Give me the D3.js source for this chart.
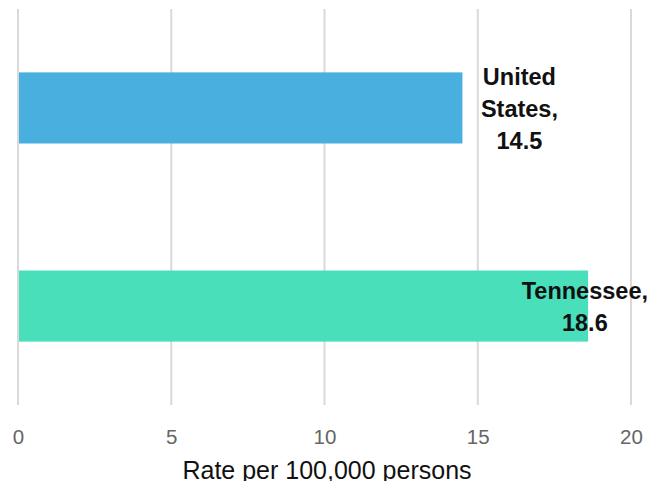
<!DOCTYPE html>
<html>
<head>
<meta charset="utf-8">
<script src="https://cdn.jsdelivr.net/npm/d3@7"></script>
<style>
  html, body { margin: 0; padding: 0; background: #fff; }
  svg { display: block; font-family: "Liberation Sans", Arial, sans-serif; }
</style>
</head>
<body>
<svg id="chart" width="658" height="481"></svg>
<script>
// Rates per 100,000 persons
const regions = ["United States", "Tennessee"];
const rates = [14.5, 18.6];
const barColors = ["#48AFDF", "#48DFBA"];
const xTicks = [0, 5, 10, 15, 20];
const axisTitle = "Rate per 100,000 persons";

const W = 658, H = 481;
const svg = d3.select("#chart");

const x = d3.scaleLinear().domain([0, 20]).range([18, 631]);
const y = d3.scaleBand().domain(regions).range([9, 405])
  .paddingInner(0.641).paddingOuter(0.32);

// vertical gridlines
svg.append("g").selectAll("line").data(xTicks).join("line")
  .attr("x1", d => x(d)).attr("x2", d => x(d))
  .attr("y1", 9).attr("y2", 405)
  .attr("stroke", "#d9d9d9").attr("stroke-width", 2);

// bars
svg.append("g").selectAll("rect").data(regions).join("rect")
  .attr("x", x(0) + 1)
  .attr("y", d => y(d))
  .attr("width", (d, i) => x(rates[i]) - x(0) - 1)
  .attr("height", y.bandwidth())
  .attr("fill", (d, i) => barColors[i]);

// x axis tick labels
const axis = svg.append("g").attr("transform", "translate(0,444)")
  .call(d3.axisBottom(x).tickValues(xTicks).tickSize(0).tickPadding(0));
axis.select(".domain").remove();
axis.selectAll("text")
  .attr("dy", 0)
  .attr("fill", "#666")
  .style("font-size", "20.5px")
  .style("font-family", "'Liberation Sans', Arial, sans-serif");

// axis title
svg.append("text")
  .attr("x", 327).attr("y", 478.5)
  .attr("text-anchor", "middle")
  .attr("fill", "#111")
  .style("font-size", "25px")
  .text(axisTitle);

// data labels beside each bar, wrapped and kept inside the chart
const labelLines = [["United", "States,", "14.5"], ["Tennessee,", "18.6"]];
const lineH = 32;
regions.forEach((r, i) => {
  const lines = labelLines[i];
  const cy = y(r) + y.bandwidth() / 2;
  const firstBase = cy + 9 - (lines.length - 1) * lineH / 2;
  const t = svg.append("text")
    .attr("text-anchor", "middle")
    .attr("font-weight", "bold")
    .attr("fill", "#111")
    .style("font-size", "23.5px");
  let cx = x(rates[i]) + 57;
  lines.forEach((ln, k) => {
    t.append("tspan").attr("x", cx).attr("y", firstBase + k * lineH).text(ln);
  });
  const bb = t.node().getBBox();
  const overflow = bb.x + bb.width - (W - 10);
  if (overflow > 0) {
    cx -= overflow;
    t.selectAll("tspan").attr("x", cx);
  }
});
</script>
</body>
</html>
